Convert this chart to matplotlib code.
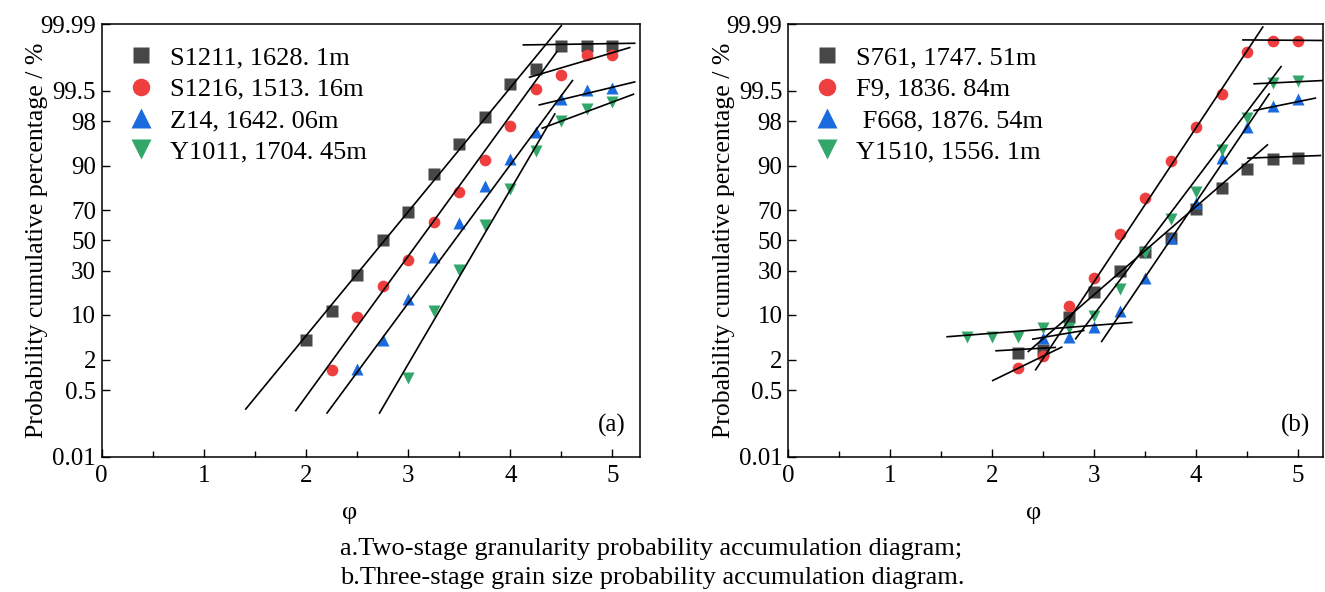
from statistics import NormalDist
import numpy as np
import matplotlib
matplotlib.use('Agg')
import matplotlib.pyplot as plt
from matplotlib.ticker import MultipleLocator, NullLocator

plt.rcParams['font.family'] = 'Liberation Serif'

# ---- data: panel (a) two-stage ----
s1211_x = [2.0, 2.25, 2.5, 2.75, 3.0, 3.25, 3.5, 3.75, 4.0, 4.25, 4.5, 4.75, 5.0]
s1211_p = [4.28, 11.4, 27.4, 50.0, 69.1, 87.5, 95.2, 98.32, 99.646, 99.842, 99.959, 99.959, 99.959]
s1216_x = [2.25, 2.5, 2.75, 3.0, 3.25, 3.5, 3.75, 4.0, 4.25, 4.5, 4.75, 5.0]
s1216_p = [1.27, 9.28, 21.5, 36.8, 62.8, 79.7, 91.6, 97.6, 99.55, 99.78, 99.931, 99.928]
z14_x = [2.5, 2.75, 3.0, 3.25, 3.5, 3.75, 4.0, 4.25, 4.5, 4.75, 5.0]
z14_p = [1.35, 4.38, 15.9, 38.7, 62.1, 82.6, 91.9, 96.87, 99.27, 99.52, 99.57]
y1011_x = [3.0, 3.25, 3.5, 3.75, 4.0, 4.25, 4.5, 4.75, 5.0]
y1011_p = [0.90, 11.1, 30.7, 60.6, 81.1, 93.9, 98.02, 98.80, 99.13]

# fitted segments (a): [x0, x1], [p0, p1]
fit_a_x = [[1.41, 4.50], [1.90, 4.457], [2.206, 4.609], [2.72, 4.436],
           [4.128, 5.218], [4.189, 5.169], [4.284, 5.218], [4.313, 5.206]]
fit_a_p = [[0.187, 99.989], [0.171, 99.942], [0.150, 99.703], [0.150, 98.53],
           [99.9616, 99.9654], [99.751, 99.9547], [99.015, 99.681], [97.33, 99.406]]

# ---- data: panel (b) three-stage ----
s761_x = [2.25, 2.5, 2.75, 3.0, 3.25, 3.5, 3.75, 4.0, 4.25, 4.5, 4.75, 5.0]
s761_p = [2.70, 2.93, 9.27, 18.6, 29.7, 42.1, 51.6, 70.7, 81.9, 89.0, 91.9, 92.2]
f9_x = [2.25, 2.5, 2.75, 3.0, 3.25, 3.5, 3.75, 4.0, 4.25, 4.5, 4.75, 5.0]
f9_p = [1.41, 2.37, 13.1, 26.2, 54.3, 77.0, 91.5, 97.43, 99.415, 99.94, 99.970, 99.970]
f668_x = [2.5, 2.75, 3.0, 3.25, 3.5, 3.75, 4.0, 4.25, 4.5, 4.75, 5.0]
f668_p = [4.65, 4.83, 6.95, 11.4, 25.9, 51.6, 73.9, 92.1, 97.43, 98.97, 99.245]
y1510_x = [1.75, 2.0, 2.25, 2.5, 2.75, 3.0, 3.25, 3.5, 3.75, 4.0, 4.25, 4.5, 4.75, 5.0]
y1510_p = [4.83, 4.83, 4.83, 6.6, 6.6, 9.77, 20.1, 41.4, 64.5, 80.0, 94.0, 98.23, 99.66, 99.70]

fit_b_x = [[2.007, 2.683], [2.04, 2.62], [2.40, 2.90], [1.56, 3.37],
           [2.428, 4.655], [2.356, 4.70], [2.82, 4.834], [3.075, 4.717],
           [4.46, 5.23], [4.57, 5.25], [4.57, 5.17], [4.51, 5.22]]
fit_b_p = [[0.80, 3.33], [2.89, 3.29], [4.49, 6.08], [4.89, 7.93],
           [1.31, 99.988], [2.81, 95.0], [4.55, 99.861], [4.12, 99.415],
           [99.972, 99.971], [99.648, 99.704], [98.73, 99.284], [92.18, 92.81]]

yticks = [0.01, 0.5, 2, 10, 30, 50, 70, 90, 98, 99.5, 99.99]
ytick_labels = ['0.01', '0.5', '2', '10', '30', '50', '70', '90', '98', '99.5', '99.99']

labels_a = ['S1211, 1628. 1m', 'S1216, 1513. 16m', 'Z14, 1642. 06m', 'Y1011, 1704. 45m']
labels_b = ['S761, 1747. 51m', 'F9, 1836. 84m', ' F668, 1876. 54m', 'Y1510, 1556. 1m']

colors = ['#474747', '#EF3E3E', '#1B6BE0', '#33A66A']
markers = ['s', 'o', '^', 'v']
msizes = [8.0, 8.4, 9.2, 9.2]

_nd = NormalDist()
_ppf = np.vectorize(_nd.inv_cdf, otypes=[float])
_cdf = np.vectorize(_nd.cdf, otypes=[float])


def probit(p):
    p = np.clip(np.asarray(p, dtype=float), 1e-7, 100 - 1e-7)
    return _ppf(p / 100.0)


def inv_probit(z):
    return _cdf(np.asarray(z, dtype=float)) * 100.0


def panel(ax, series, labels, fx, fp, xmax, tag):
    ax.set_yscale('function', functions=(probit, inv_probit))
    for (x, p), lab, c, m, ms in zip(series, labels, colors, markers, msizes):
        ax.plot(x, p, ls='none', marker=m, ms=ms, color=c, mec='none', label=lab, zorder=2)
    for x, p in zip(fx, fp):
        ax.plot(x, p, color='k', lw=1.2, zorder=3)
    ax.set_xlim(0, xmax)
    ax.set_ylim(0.01, 99.99)
    ax.set_yticks(yticks)
    ax.set_yticklabels(ytick_labels)
    ax.yaxis.set_minor_locator(NullLocator())
    ax.set_xticks([0, 1, 2, 3, 4, 5])
    ax.xaxis.set_minor_locator(MultipleLocator(0.5))
    ax.tick_params(which='both', direction='in', top=False, right=False,
                   labelsize=18, width=1.0)
    ax.tick_params(which='major', length=6)
    ax.tick_params(which='minor', length=4)
    ax.tick_params(axis='x', pad=6)
    ax.tick_params(axis='y', pad=4)
    for s in ax.spines.values():
        s.set_linewidth(1.1)
    ax.set_xlabel('φ', fontsize=19)
    ax.set_ylabel('Probability cumulative percentage / %', fontsize=18.5)
    ax.yaxis.set_label_coords(-0.10, 0.5)
    ax.xaxis.set_label_coords(0.46, -0.105)
    ax.text(0.948, 0.073, tag, transform=ax.transAxes, ha='center', va='center', fontsize=18)
    ax.legend(loc='upper left', bbox_to_anchor=(0.048, 0.95), frameon=False,
              borderpad=0, borderaxespad=0, handlelength=1.0, handletextpad=0.6,
              labelspacing=0.3, markerscale=1.5, prop={'size': 19})


fig = plt.figure(figsize=(13.25, 5.92), dpi=100)
ax_a = fig.add_axes([0.07675, 0.22855, 0.40626, 0.73041])
ax_b = fig.add_axes([0.59472, 0.22855, 0.40377, 0.73041])

panel(ax_a, [(s1211_x, s1211_p), (s1216_x, s1216_p), (z14_x, z14_p), (y1011_x, y1011_p)],
      labels_a, fit_a_x, fit_a_p, 5.27, '(a)')
panel(ax_b, [(s761_x, s761_p), (f9_x, f9_p), (f668_x, f668_p), (y1510_x, y1510_p)],
      labels_b, fit_b_x, fit_b_p, 5.245, '(b)')

fig.text(340 / 1325, 1 - 549 / 592, 'a.Two-stage granularity probability accumulation diagram;',
         ha='left', va='center', fontsize=19)
fig.text(340 / 1325, 1 - 578 / 592, 'b.Three-stage grain size probability accumulation diagram.',
         ha='left', va='center', fontsize=19)

fig.savefig('out.png', dpi=100)
